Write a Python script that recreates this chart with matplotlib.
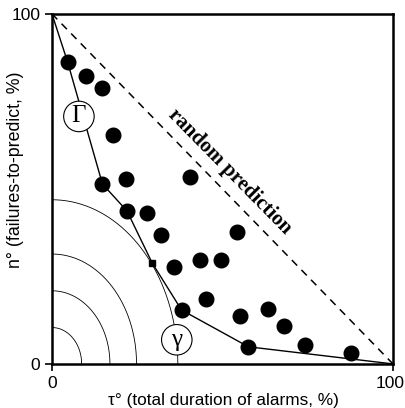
import numpy as np
import matplotlib
matplotlib.use("Agg")
import matplotlib.pyplot as plt
import matplotlib.transforms as mtransforms

# observed strategies (tau %, n %)
tau_pts = [4.6, 9.9, 14.8, 18.0, 14.8, 21.7, 40.5, 22.0, 27.9, 31.9, 35.7,
           43.4, 49.6, 54.4, 45.1, 38.0, 55.1, 63.2, 68.1, 57.6, 74.2, 87.6]
n_pts = [86.2, 82.3, 78.8, 65.4, 51.4, 52.8, 53.3, 43.7, 43.2, 36.9, 27.8,
         29.7, 29.7, 37.6, 18.6, 15.4, 13.8, 15.6, 10.9, 4.9, 5.4, 3.0]

# error diagram envelope Gamma
gamma_tau = [0, 4.6, 14.8, 22.0, 29.4, 38.0, 57.6, 100]
gamma_n = [100, 86.2, 51.4, 43.7, 28.8, 15.4, 4.9, 0]

# optimal point
opt_tau, opt_n = 29.4, 28.8

# loss level lines (quarter ellipses)
arc_rx = [8.7, 17.0, 24.8, 36.9]
arc_ry = [10.4, 20.9, 31.4, 46.9]

fig = plt.figure(figsize=(4.06, 4.08), dpi=100)
ax = fig.add_axes([0.128, 0.108, 0.840, 0.858])

t = np.linspace(0, np.pi / 2, 200)
for rx, ry in zip(arc_rx, arc_ry):
    ax.plot(rx * np.cos(t), ry * np.sin(t), color="black", lw=0.6)

ax.plot([0, 100], [100, 0], color="black", lw=1.1, ls=(0, (5, 4)))
ax.plot(gamma_tau, gamma_n, color="black", lw=1.0)
ax.plot(tau_pts, n_pts, "o", color="black", ms=10.5)
ax.plot([opt_tau], [opt_n], "s", color="black", ms=4)

ax.text(52.2, 54.9, "random prediction", rotation=-45.5, ha="center", va="center",
        family="Liberation Serif", fontweight="bold", fontsize=15)

circ = dict(boxstyle="circle,pad=0.17", fc="white", ec="black", lw=0.8)
ax.text(7.9, 70.7, "Γ", ha="center", va="center", family="Liberation Serif",
        fontsize=18, bbox=circ)
ax.text(36.6, 6.9, "γ", ha="center", va="center", family="Liberation Serif",
        fontsize=18, bbox=circ)

ax.set_xlim(0, 100)
ax.set_ylim(0, 100)
ax.set_xticks([0, 100])
ax.set_yticks([0, 100])
ax.tick_params(labelsize=12.5, length=5, width=1.2, direction="out")
for lab in ax.get_xticklabels() + ax.get_yticklabels():
    lab.set_family("Liberation Sans")
# nudge the right-hand "100" so it stays inside the figure
last = ax.get_xticklabels()[-1]
last.set_transform(last.get_transform() +
                   mtransforms.ScaledTranslation(-3 / 100, 0, fig.dpi_scale_trans))
for s in ax.spines.values():
    s.set_linewidth(1.8)

ax.set_xlabel("τ° (total duration of alarms, %)", family="Liberation Sans",
              fontsize=12.4)
ax.xaxis.set_label_coords(0.504, -0.083)
ax.set_ylabel("n° (failures-to-predict, %)", family="Liberation Sans",
              fontsize=12.8)
ax.yaxis.set_label_coords(-0.082, 0.555)

fig.savefig("out.png", dpi=100)
